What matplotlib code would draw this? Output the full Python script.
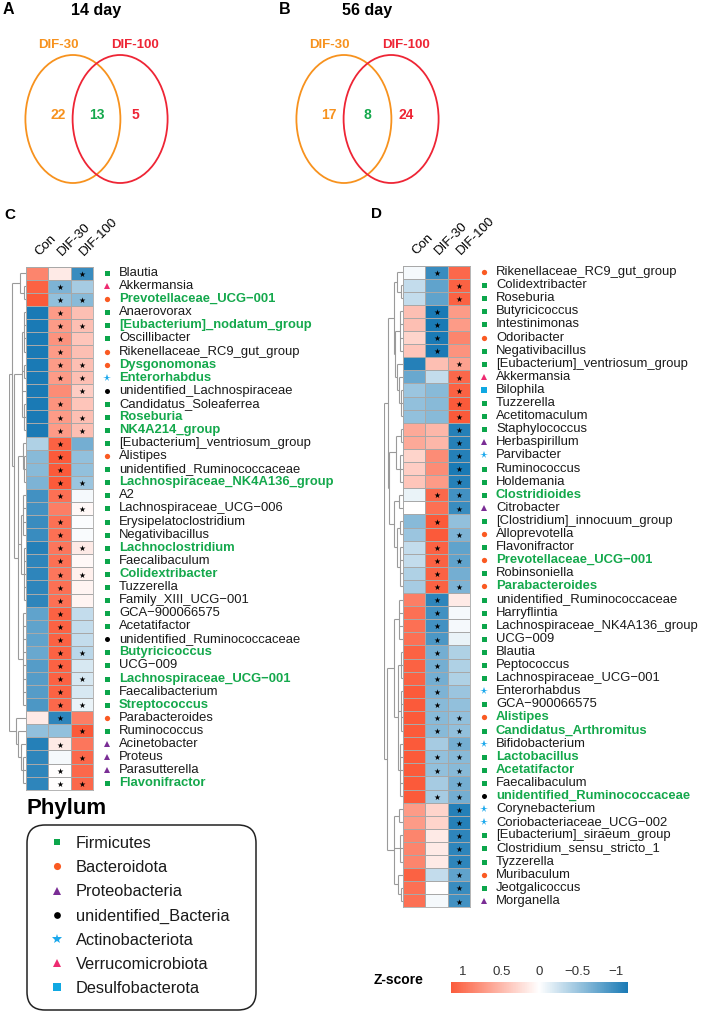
import numpy as np
import matplotlib
matplotlib.use('Agg')
import matplotlib.pyplot as plt
from matplotlib.colors import LinearSegmentedColormap
from matplotlib.patches import Ellipse, FancyBboxPatch
from matplotlib.lines import Line2D

W, H = 704, 1014
plt.rcParams['font.family'] = ['Liberation Sans', 'DejaVu Sans']
NARROW = ['Liberation Sans', 'DejaVu Sans']

# ---------------- data ----------------
groups = ['Con', 'DIF-30', 'DIF-100']

venn_titles = ['14 day', '56 day']
venn_letters = ['A', 'B']
venn_sets = ['DIF-30', 'DIF-100']
venn_only30 = [22, 17]
venn_shared = [13, 8]
venn_only100 = [5, 24]

phyla = ['Firmicutes', 'Bacteroidota', 'Proteobacteria', 'unidentified_Bacteria',
         'Actinobacteriota', 'Verrucomicrobiota', 'Desulfobacterota']
phylum_codes = ['F', 'B', 'P', 'U', 'A', 'V', 'D']

c_genus = ['Blautia', 'Akkermansia', 'Prevotellaceae_UCG\u2212001', 'Anaerovorax',
           '[Eubacterium]_nodatum_group', 'Oscillibacter', 'Rikenellaceae_RC9_gut_group',
           'Dysgonomonas', 'Enterorhabdus', 'unidentified_Lachnospiraceae',
           'Candidatus_Soleaferrea', 'Roseburia', 'NK4A214_group',
           '[Eubacterium]_ventriosum_group', 'Alistipes', 'unidentified_Ruminococcaceae',
           'Lachnospiraceae_NK4A136_group', 'A2', 'Lachnospiraceae_UCG\u2212006',
           'Erysipelatoclostridium', 'Negativibacillus', 'Lachnoclostridium',
           'Faecalibaculum', 'Colidextribacter', 'Tuzzerella', 'Family_XIII_UCG\u2212001',
           'GCA\u2212900066575', 'Acetatifactor', 'unidentified_Ruminococcaceae',
           'Butyricicoccus', 'UCG\u2212009', 'Lachnospiraceae_UCG\u2212001', 'Faecalibacterium',
           'Streptococcus', 'Parabacteroides', 'Ruminococcus', 'Acinetobacter', 'Proteus',
           'Parasutterella', 'Flavonifractor']
c_phylum = list('FVBFFFBBAUFFFFBFFFFFFFFFFFFFUFFFFFBFPPPF')
c_shared = [0, 0, 1, 0, 1, 0, 0, 1, 1, 0, 0, 1, 1, 0, 0, 0, 1, 0, 0, 0,
            0, 1, 0, 1, 0, 0, 0, 0, 0, 1, 0, 1, 0, 1, 0, 0, 0, 0, 0, 1]
c_con = [0.85, 1.10, 1.15, -1.15, -1.15, -1.15, -1.15, -1.15, -1.15, -1.15,
         -1.15, -1.15, -1.15, -0.40, -0.60, -0.60, -0.65, -0.95, -0.95, -1.00,
         -1.00, -1.10, -1.05, -1.05, -1.05, -1.05, -0.80, -0.80, -0.80, -0.75,
         -0.85, -0.85, -0.85, -0.90, 0.15, -0.55, -1.10, -1.05, -1.05, -1.05]
c_dif30 = [0.15, -0.65, -0.55, 0.70, 0.70, 0.75, 0.70, 0.70, 0.70, 0.80,
           0.75, 0.70, 0.70, 1.10, 1.15, 1.15, 1.15, 1.00, 0.90, 1.00,
           1.00, 0.95, 1.00, 0.95, 1.00, 1.00, 1.10, 1.10, 1.10, 1.10,
           1.10, 1.10, 1.10, 1.05, -1.05, -0.55, 0.15, -0.05, 0.00, 0.00]
c_dif100 = [-1.00, -0.45, -0.60, 0.45, 0.45, 0.40, 0.45, 0.45, 0.45, 0.35,
            0.40, 0.45, 0.45, -0.70, -0.55, -0.55, -0.50, -0.05, 0.05, -0.02,
            -0.03, 0.15, 0.05, 0.10, 0.08, 0.08, -0.30, -0.30, -0.30, -0.35,
            -0.20, -0.20, -0.20, -0.10, 0.90, 1.15, 0.95, 1.05, 1.05, 1.05]
c_sig30 = [0, 1, 1, 1, 1, 1, 1, 1, 1, 0, 1, 1, 1, 1, 1, 1, 1, 1, 0, 1,
           1, 1, 1, 1, 1, 1, 1, 1, 1, 1, 1, 1, 1, 1, 1, 0, 1, 0, 1, 1]
c_sig100 = [1, 0, 1, 0, 1, 0, 0, 1, 1, 1, 0, 1, 1, 0, 0, 0, 1, 0, 1, 0,
            0, 1, 0, 1, 0, 0, 0, 0, 0, 1, 0, 1, 0, 1, 0, 1, 0, 1, 0, 1]

d_genus = ['Rikenellaceae_RC9_gut_group', 'Colidextribacter', 'Roseburia', 'Butyricicoccus',
           'Intestinimonas', 'Odoribacter', 'Negativibacillus', '[Eubacterium]_ventriosum_group',
           'Akkermansia', 'Bilophila', 'Tuzzerella', 'Acetitomaculum', 'Staphylococcus',
           'Herbaspirillum', 'Parvibacter', 'Ruminococcus', 'Holdemania', 'Clostridioides',
           'Citrobacter', '[Clostridium]_innocuum_group', 'Alloprevotella', 'Flavonifractor',
           'Prevotellaceae_UCG\u2212001', 'Robinsoniella', 'Parabacteroides',
           'unidentified_Ruminococcaceae', 'Harryflintia', 'Lachnospiraceae_NK4A136_group',
           'UCG\u2212009', 'Blautia', 'Peptococcus', 'Lachnospiraceae_UCG\u2212001', 'Enterorhabdus',
           'GCA\u2212900066575', 'Alistipes', 'Candidatus_Arthromitus', 'Bifidobacterium',
           'Lactobacillus', 'Acetatifactor', 'Faecalibaculum', 'unidentified_Ruminococcaceae',
           'Corynebacterium', 'Coriobacteriaceae_UCG\u2212002', '[Eubacterium]_siraeum_group',
           'Clostridium_sensu_stricto_1', 'Tyzzerella', 'Muribaculum', 'Jeotgalicoccus',
           'Morganella']
d_phylum = list('BFFFFBFFVDFFFPAFFFPFBFBFBFFFFFFFAFBFAFFFUAAFFFBFP')
d_shared = [0, 0, 0, 0, 0, 0, 0, 0, 0, 0, 0, 0, 0, 0, 0, 0, 0, 1, 0, 0,
            0, 0, 1, 0, 1, 0, 0, 0, 0, 0, 0, 0, 0, 0, 1, 1, 0, 1, 1, 0,
            1, 0, 0, 0, 0, 0, 0, 0, 0]
d_con = [-0.05, -0.30, -0.30, 0.45, 0.45, 0.30, 0.40, -1.10, -0.75, -0.50,
         -0.55, -0.55, 0.60, 0.60, 0.30, 0.35, 0.40, -0.10, 0.00, -0.60,
         -0.50, -0.30, -0.30, -0.40, -0.45, 0.90, 1.00, 1.00, 1.00, 1.10,
         1.10, 1.10, 1.15, 1.15, 1.15, 1.15, 1.15, 1.15, 1.15, 1.15,
         1.15, 0.70, 0.70, 0.85, 0.85, 0.85, 1.10, 1.00, 1.00]
d_dif30 = [-1.00, -0.80, -0.80, -1.15, -1.15, -1.15, -1.15, 0.45, -0.30, -0.60,
           -0.60, -0.60, 0.50, 0.50, 0.80, 0.80, 0.70, 1.05, 1.00, 1.15,
           1.15, 1.10, 1.10, 1.10, 1.10, -1.05, -0.95, -0.95, -0.90, -0.70,
           -0.70, -0.70, -0.65, -0.60, -0.60, -0.60, -0.45, -0.55, -0.55, -0.45,
           -0.45, 0.30, 0.30, 0.15, 0.15, 0.15, -0.30, 0.00, -0.05]
d_dif100 = [1.05, 1.10, 1.10, 0.70, 0.70, 0.85, 0.75, 0.65, 1.05, 1.10,
            1.15, 1.15, -1.10, -1.10, -1.10, -1.15, -1.10, -0.95, -1.00, -0.55,
            -0.65, -0.80, -0.80, -0.70, -0.65, 0.15, -0.05, -0.05, -0.10, -0.40,
            -0.40, -0.40, -0.50, -0.55, -0.55, -0.55, -0.70, -0.60, -0.60, -0.70,
            -0.70, -1.10, -1.10, -1.05, -1.05, -1.05, -0.80, -1.00, -0.95]
d_sig30 = [1, 0, 0, 1, 1, 1, 1, 0, 0, 0, 0, 0, 0, 0, 0, 0, 0, 1, 0, 1,
           0, 1, 1, 1, 1, 1, 1, 1, 1, 1, 1, 1, 1, 1, 1, 1, 0, 1, 1, 0,
           1, 0, 0, 0, 0, 0, 0, 0, 0]
d_sig100 = [0, 1, 1, 0, 0, 0, 0, 1, 1, 1, 1, 1, 1, 1, 1, 1, 1, 1, 1, 0,
            1, 0, 1, 0, 1, 0, 0, 0, 0, 0, 0, 0, 0, 0, 1, 1, 1, 1, 1, 1,
            1, 1, 1, 1, 1, 1, 1, 1, 1]

# cluster trees (height, [children]); leaves are row indices
c_tree = (1.0, [
    (0.85, [
        (0.35, [0, (0.1, [1, 2])]),
        (0.7, [
            (0.25, [(0.1, [3, 4, 5, 6]), (0.12, [7, 8]), 9, (0.1, [10, 11, 12])]),
            (0.45, [(0.2, [13, (0.1, [14, 15, 16])]),
                    (0.3, [(0.15, [17, 18, 19, 20]), (0.12, [21, 22, 23, 24, 25])]),
                    (0.15, [26, 27, 28, 29, 30, 31, 32, 33])]),
        ]),
    ]),
    (0.6, [34, (0.45, [35, (0.3, [36, (0.15, [37, 38, 39])])])]),
])
d_tree = (1.0, [
    (0.8, [
        (0.5, [(0.3, [0, (0.1, [1, 2])]),
               (0.4, [(0.15, [3, 4, 5, 6]), (0.3, [7, (0.2, [8, (0.1, [9, 10, 11])])])])]),
        (0.75, [(0.35, [(0.12, [12, 13]), (0.15, [14, 15, 16])]),
                (0.45, [(0.2, [17, 18]), (0.3, [(0.15, [19, 20]), (0.15, [21, 22, 23, 24])])])]),
    ]),
    (0.85, [
        (0.45, [(0.2, [25, 26, 27, 28]),
                (0.25, [(0.1, [29, 30, 31]), (0.12, [32, 33, 34, 35]), (0.15, [36, 37, 38, 39, 40])])]),
        (0.5, [(0.2, [41, 42]), (0.15, [43, 44, 45]), (0.25, [46, (0.1, [47, 48])])]),
    ]),
])

# ---------------- styles ----------------
ph_style = {'F': ('s', '#0CA64B', 3.6), 'B': ('o', '#FA5A22', 3.8), 'P': ('^', '#7A2D95', 3.8),
            'U': ('o', '#000000', 3.6), 'A': ('*', '#1BA8EC', 5.5), 'V': ('^', '#EE2B71', 3.8),
            'D': ('s', '#10A8E2', 3.8)}
GREEN = '#14A84C'
ORANGE = '#F7921E'
RED = '#EE2535'
ZMAX = 1.155
cmap = LinearSegmentedColormap.from_list('z', ['#1A7AB5', '#FFFFFF', '#FB5A3A'])

fig = plt.figure(figsize=(W / 100, H / 100), dpi=100)


def px_rect(x, y, w, h):
    return [x / W, 1 - (y + h) / H, w / W, h / H]


# ---------------- Venn panels ----------------
ov = fig.add_axes([0, 0, 1, 1])
ov.set_xlim(0, W)
ov.set_ylim(H, 0)
ov.axis('off')
venn_mid = [96.5, 367.5]
letter_x = [3, 279]
for k in range(2):
    m = venn_mid[k]
    ov.text(letter_x[k], 10, venn_letters[k], fontsize=11.5, fontweight='bold', family=NARROW,
            va='center', ha='left')
    ov.text(m, 10, venn_titles[k], fontsize=11.5, fontweight='bold', family=NARROW,
            va='center', ha='center')
    ov.add_patch(Ellipse((m - 23.6, 119), 95, 128, fill=False, ec=ORANGE, lw=1.3))
    ov.add_patch(Ellipse((m + 23.6, 119), 95, 128, fill=False, ec=RED, lw=1.3))
    ov.text(m - 38.5, 45, venn_sets[0], color=ORANGE, fontsize=9.5, fontweight='bold',
            family=NARROW, ha='center', va='center')
    ov.text(m + 38.5, 45, venn_sets[1], color=RED, fontsize=9.5, fontweight='bold',
            family=NARROW, ha='center', va='center')
    ov.text(m - 38.5, 115, str(venn_only30[k]), color=ORANGE, fontsize=10, fontweight='bold',
            family=NARROW, ha='center', va='center')
    ov.text(m, 115, str(venn_shared[k]), color=GREEN, fontsize=10, fontweight='bold',
            family=NARROW, ha='center', va='center')
    ov.text(m + 38.5, 115, str(venn_only100[k]), color=RED, fontsize=10, fontweight='bold',
            family=NARROW, ha='center', va='center')

ov.text(4, 215, 'C', fontsize=11, fontweight='bold', va='center', ha='left')
ov.text(371, 214, 'D', fontsize=11, fontweight='bold', va='center', ha='left')


# ---------------- heatmaps ----------------
def draw_tree(ax, node):
    if isinstance(node, int):
        return 0.0, node + 0.5
    h, kids = node
    pts = [draw_tree(ax, kid) for kid in kids]
    ys = [p[1] for p in pts]
    for kh, ky in pts:
        ax.plot([kh, h], [ky, ky], color='#9A9A9A', lw=0.8, solid_capstyle='butt')
    ax.plot([h, h], [min(ys), max(ys)], color='#9A9A9A', lw=0.8, solid_capstyle='butt')
    return h, (min(ys) + max(ys)) / 2


def heat_panel(x0, y0, pitch, dendro_w, genus, phylum, shared, con, d30, d100, s30, s100, tree):
    n = len(genus)
    hw = 67
    hh = pitch * n
    ax = fig.add_axes(px_rect(x0, y0, hw, hh))
    z = np.column_stack([con, d30, d100])
    ax.pcolormesh(np.arange(4), np.arange(n + 1), z, cmap=cmap, vmin=-ZMAX, vmax=ZMAX,
                  edgecolors='#A8A8A8', linewidth=0.6)
    ax.set_xlim(0, 3)
    ax.set_ylim(n, 0)
    ax.set_xticks([])
    ax.set_yticks([])
    for s in ax.spines.values():
        s.set_edgecolor('#A8A8A8')
        s.set_linewidth(0.6)
    ux = hw / 3.0
    # significance stars
    for j, sig in ((1, s30), (2, s100)):
        rows = [i for i in range(n) if sig[i]]
        ax.scatter([j + 0.5] * len(rows), [i + 0.55 for i in rows], marker='*', s=20,
                   color='black', linewidths=0, zorder=5)
    # column labels
    for j, g in enumerate(groups):
        ax.text(j + 0.5 + 4 / ux, -8.5 / pitch, g, rotation=45, rotation_mode='anchor',
                ha='left', va='bottom', fontsize=9.5, clip_on=False)
    # row labels
    for i in range(n):
        mk, col, ms = ph_style[phylum[i]]
        ax.plot(3 + 13.5 / ux, i + 0.5, marker=mk, color=col, ms=ms, mew=0, clip_on=False)
        if shared[i]:
            ax.text(3 + 26 / ux, i + 0.5, genus[i], fontsize=9.4, fontweight='bold',
                    color=GREEN, va='center', ha='left', clip_on=False)
        else:
            ax.text(3 + 26 / ux, i + 0.5, genus[i], fontsize=9.4, color='#1A1A1A',
                    va='center', ha='left', clip_on=False)
    # dendrogram
    axd = fig.add_axes(px_rect(x0 - dendro_w, y0, dendro_w, hh))
    draw_tree(axd, tree)
    axd.set_xlim(1.0, 0)
    axd.set_ylim(n, 0)
    axd.axis('off')
    return ax


heat_panel(26, 266.5, 13.08, 17, c_genus, c_phylum, c_shared, c_con, c_dif30, c_dif100,
           c_sig30, c_sig100, c_tree)
heat_panel(403, 265.5, 13.1, 19, d_genus, d_phylum, d_shared, d_con, d_dif30, d_dif100,
           d_sig30, d_sig100, d_tree)

# ---------------- phylum legend ----------------
ov.text(27, 814, 'Phylum', fontsize=16, fontweight='bold', va='baseline', ha='left')
ov.add_patch(FancyBboxPatch((27, 825), 229, 185, boxstyle='round,pad=0,rounding_size=18',
                            fc='white', ec='#222222', lw=1.1))
handles = []
for code, name in zip(phylum_codes, phyla):
    mk, col, ms = ph_style[code]
    handles.append(Line2D([], [], ls='none', marker=mk, color=col, mew=0,
                          ms=ms * 1.35, label=name))
leg = fig.legend(handles=handles, loc='upper left', bbox_to_anchor=(49 / W, 1 - 836 / H),
                 frameon=False, fontsize=11.8, labelspacing=0.56, handlelength=1.0,
                 handletextpad=0.65, borderpad=0, borderaxespad=0)
for t in leg.get_texts():
    t.set_color('#1A1A1A')

# ---------------- colour bar ----------------
cax = fig.add_axes(px_rect(451, 982, 177, 11))
grad = np.linspace(-ZMAX, ZMAX, 256)
cax.pcolormesh(grad, [0, 1], grad[None, :-1], cmap=cmap, vmin=-ZMAX, vmax=ZMAX)
cax.set_xlim(ZMAX, -ZMAX)
cax.set_ylim(0, 1)
cax.set_yticks([])
cax.set_xticks([1, 0.5, 0, -0.5, -1])
cax.set_xticklabels(['1', '0.5', '0', '\u22120.5', '\u22121'])
cax.xaxis.tick_top()
cax.tick_params(axis='x', length=0, pad=3, labelsize=9.5, labelcolor='#333333')
for s in cax.spines.values():
    s.set_visible(False)
ov.text(374, 980, 'Z-score', fontsize=10, fontweight='bold', va='center', ha='left')

fig.savefig('out.png', dpi=100)
